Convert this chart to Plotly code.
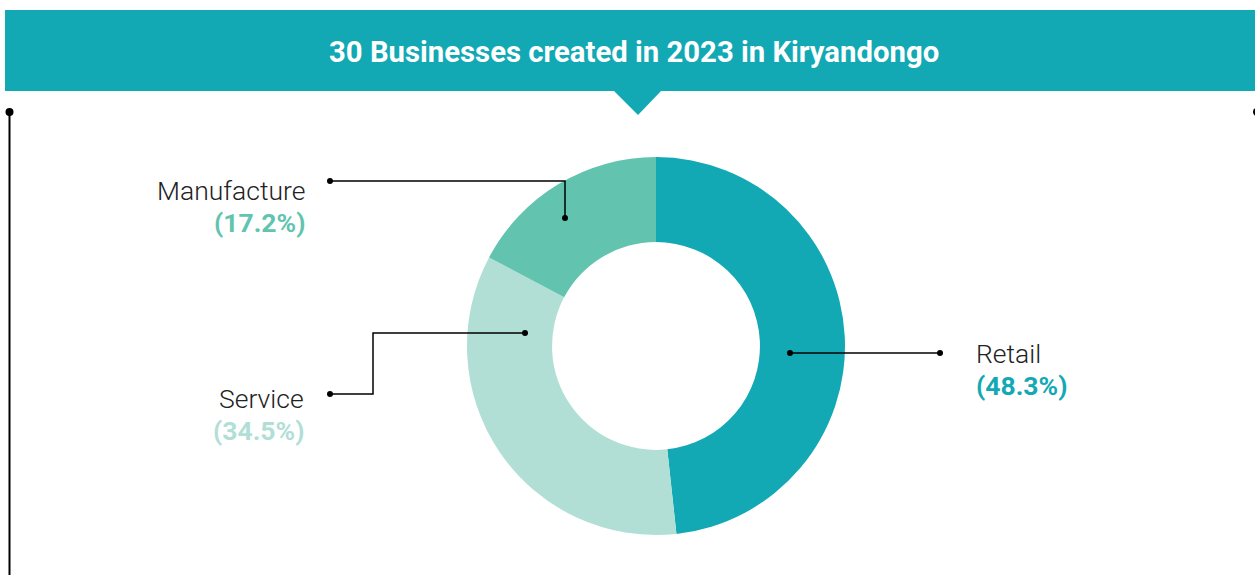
import plotly.graph_objects as go

W, H = 1255, 575

# Data
sectors = ["Retail", "Service", "Manufacture"]
businesses = [14, 10, 5]
colors = ["#12A9B5", "#B1DFD6", "#62C4AF"]
title = "30 Businesses created in 2023 in Kiryandongo"

total = sum(businesses)
pcts = [f"({v / total * 100:.1f}%)" for v in businesses]

# donut placement (pixels)
cx, cy, r = 656, 346, 189

fig = go.Figure()
fig.add_trace(go.Pie(
    labels=sectors,
    values=businesses,
    hole=0.55,
    sort=False,
    direction="clockwise",
    rotation=0,
    marker=dict(colors=colors, line=dict(width=0)),
    textinfo="none",
    hoverinfo="label+percent",
    showlegend=False,
    domain=dict(x=[(cx - r) / W, (cx + r) / W], y=[1 - (cy + r) / H, 1 - (cy - r) / H]),
))

shapes = []
# header banner with pointer
shapes.append(dict(type="rect", x0=5, x1=1262, y0=10, y1=91, fillcolor="#12A9B5", line_width=0, layer="below"))
shapes.append(dict(type="path", path="M 613 90 L 662 90 L 638 115 Z", fillcolor="#12A9B5", line_width=0))
# frame line on the left
shapes.append(dict(type="line", x0=9.5, x1=9.5, y0=112, y1=580, line=dict(color="black", width=2)))
for x in (9.5, 1257):
    shapes.append(dict(type="circle", x0=x - 4, x1=x + 4, y0=108, y1=116, fillcolor="black", line_width=0))

# leader lines
leaders = [
    [(790, 353), (940, 353)],
    [(330, 394), (373, 394), (373, 333), (525, 333)],
    [(330, 181), (565, 181), (565, 218)],
]
for pts in leaders:
    path = "M " + " L ".join(f"{x} {y}" for x, y in pts)
    shapes.append(dict(type="path", path=path, line=dict(color="black", width=1.5)))
    for x, y in (pts[0], pts[-1]):
        shapes.append(dict(type="circle", x0=x - 3, x1=x + 3, y0=y - 3, y1=y + 3, fillcolor="black", line_width=0))

for s in shapes:
    s.setdefault("xref", "x")
    s.setdefault("yref", "y")

annotations = [dict(x=W / 2 + 6, y=52, text=f"<b>{title}</b>", showarrow=False,
                    font=dict(family="Roboto", size=29.3, color="white"))]
label_pos = [(974, 353, "left"), (306, 398, "right"), (307, 190, "right")]
for (x, y, anchor), name, pct, col in zip(label_pos, sectors, pcts, colors):
    annotations.append(dict(x=x, y=y, text=name, showarrow=False, xanchor=anchor,
                            font=dict(family="Roboto", size=26.5, color="#222222", weight=300)))
    annotations.append(dict(x=x, y=y + 32, text=f"<b>{pct}</b>", showarrow=False, xanchor=anchor,
                            font=dict(family="Roboto", size=26.5, color=col)))

fig.update_layout(
    width=W, height=H,
    margin=dict(l=0, r=0, t=0, b=0),
    paper_bgcolor="white", plot_bgcolor="rgba(0,0,0,0)",
    xaxis=dict(range=[0, W], visible=False, fixedrange=True),
    yaxis=dict(range=[H, 0], visible=False, fixedrange=True),
    shapes=shapes,
    annotations=annotations,
)

fig.write_html("out.html", config={"displayModeBar": False},
               post_script="document.body.style.margin='0';")
